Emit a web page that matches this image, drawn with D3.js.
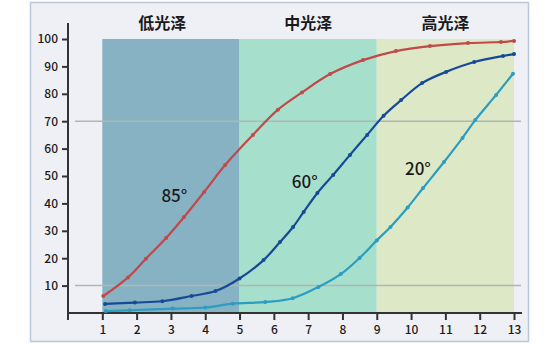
<!DOCTYPE html>
<html lang="zh">
<head>
<meta charset="UTF-8"/>
<script src="https://d3js.org/d3.v7.min.js"></script>
<style>
  body { margin: 0; background: #fff; }
  text { font-family: "Noto Sans CJK SC", "Noto Sans", sans-serif; }
</style>
</head>
<body>
<script type="text/javascript">
// gloss bands along x
var bandNames  = ["低光泽", "中光泽", "高光泽"];
var bandStarts = [1, 5, 9];
var bandEnds   = [5, 9, 13];
var bandLabelX = [2.75, 7, 11];

var xTicks = [1, 2, 3, 4, 5, 6, 7, 8, 9, 10, 11, 12, 13];
var yTicks = [10, 20, 30, 40, 50, 60, 70, 80, 90, 100];
var refLines = [70, 10];

// curves: [x, value]
var red85 = [[1.03,6.2],[1.75,13.0],[2.27,19.8],[2.86,27.4],[3.38,35.0],[3.97,44.2],[4.58,54.0],
             [5.39,65.0],[6.12,74.2],[6.82,80.5],[7.64,87.2],[8.6,92.3],[9.56,95.6],[10.55,97.4],
             [11.66,98.5],[12.62,98.9],[13.0,99.3]];
var blue60 = [[1.08,3.3],[1.95,3.8],[2.75,4.3],[3.6,6.2],[4.3,8.0],[5.0,12.6],[5.7,19.3],[6.18,25.9],
              [6.56,31.4],[6.87,36.9],[7.27,43.8],[7.73,50.4],[8.22,57.7],[8.72,65.0],[9.2,72.0],
              [9.71,77.7],[10.32,83.9],[11.02,88.0],[11.84,91.6],[12.68,93.8],[13.0,94.5]];
var teal20 = [[1.1,0.7],[1.8,1.0],[3.05,1.6],[4.0,2.0],[4.8,3.4],[5.75,4.0],[6.55,5.4],[7.3,9.5],
              [7.95,14.2],[8.5,20.1],[9.0,26.5],[9.4,31.4],[9.9,38.5],[10.35,45.6],[10.96,55.1],
              [11.5,63.9],[11.87,70.4],[12.48,79.6],[12.97,87.3]];

var curveLabels = ["85°", "60°", "20°"];
var curveLabelPos = [[3.1, 40.5], [6.9, 45.5], [10.2, 50.5]];

var w = 555, h = 344;
var bandColors = ["#86b2c3", "#a6e0cd", "#dde9c6"];
var lineColors = ["#c2484a", "#174a96", "#2a9dc0"];

var x = d3.scaleLinear().domain([0, 13]).range([68, 514]);
var y = d3.scaleLinear().domain([0, 100]).range([313, 39]);

var svg = d3.select("body").append("svg")
    .attr("width", w)
    .attr("height", h);

// panel
svg.append("rect")
   .attr("x", 30.5).attr("y", 2.5)
   .attr("width", 498).attr("height", 339)
   .attr("fill", "#eef0f5")
   .attr("stroke", "#b8c8d8")
   .attr("stroke-width", 1.5);

// bands
svg.selectAll("rect.band")
   .data(bandNames)
   .enter().append("rect")
   .attr("class", "band")
   .attr("x", function(d, i) { return x(bandStarts[i]); })
   .attr("y", y(100))
   .attr("width", function(d, i) { return x(bandEnds[i]) - x(bandStarts[i]); })
   .attr("height", y(0) - y(100))
   .attr("fill", function(d, i) { return bandColors[i]; });

svg.selectAll("text.band")
   .data(bandNames)
   .enter().append("text")
   .attr("class", "band")
   .attr("x", function(d, i) { return x(bandLabelX[i]); })
   .attr("y", 29)
   .attr("text-anchor", "middle")
   .attr("font-size", 16)
   .attr("font-weight", "bold")
   .attr("fill", "#1a1a1a")
   .text(function(d) { return d; });

// gray reference lines
svg.selectAll("line.ref")
   .data(refLines)
   .enter().append("line")
   .attr("class", "ref")
   .attr("x1", 75).attr("x2", 521)
   .attr("y1", function(d) { return y(d); })
   .attr("y2", function(d) { return y(d); })
   .attr("stroke", "#b4b4b4")
   .attr("stroke-width", 1.5);

// axes
var yAxis = d3.axisLeft(y).tickValues(yTicks).tickSize(6).tickPadding(4);
var xAxis = d3.axisBottom(x).tickValues(xTicks).tickSize(7).tickPadding(5);

var gy = svg.append("g")
   .attr("transform", "translate(68,0)")
   .call(yAxis);
gy.select(".domain").remove();
gy.append("line")
  .attr("x1", 0).attr("x2", 0).attr("y1", 23).attr("y2", 313)
  .attr("stroke", "#333").attr("stroke-width", 2);

var gx = svg.append("g")
   .attr("transform", "translate(0,313)")
   .call(xAxis);
gx.select(".domain").remove();
gx.append("line")
  .attr("x1", 68).attr("x2", 522).attr("y1", 0).attr("y2", 0)
  .attr("stroke", "#333").attr("stroke-width", 2);
// small tick at the origin
gx.append("line")
  .attr("x1", 68).attr("x2", 68).attr("y1", 0).attr("y2", 7)
  .attr("stroke", "#333").attr("stroke-width", 2);

svg.selectAll(".tick line").attr("stroke", "#333").attr("stroke-width", 2);
svg.selectAll(".tick text")
   .attr("fill", "#1a1a1a")
   .style("font-size", "12px")
   .style("font-weight", "500")
   .style("font-family", "'Noto Sans CJK SC', 'Noto Sans', sans-serif");

// curves
var line = d3.line()
    .curve(d3.curveCatmullRom)
    .x(function(d) { return x(d[0]); })
    .y(function(d) { return y(d[1]); });

[red85, blue60, teal20].forEach(function(series, i) {
    svg.append("path")
       .datum(series)
       .attr("d", line)
       .attr("fill", "none")
       .attr("stroke", lineColors[i])
       .attr("stroke-width", 2.2);
    svg.selectAll("circle.s" + i)
       .data(series)
       .enter().append("circle")
       .attr("class", "s" + i)
       .attr("cx", function(d) { return x(d[0]); })
       .attr("cy", function(d) { return y(d[1]); })
       .attr("r", 2)
       .attr("fill", lineColors[i]);
});

svg.selectAll("text.curve")
   .data(curveLabels)
   .enter().append("text")
   .attr("class", "curve")
   .attr("x", function(d, i) { return x(curveLabelPos[i][0]); })
   .attr("y", function(d, i) { return y(curveLabelPos[i][1]); })
   .attr("text-anchor", "middle")
   .attr("font-size", 17)
   .attr("font-weight", 500)
   .attr("fill", "#1a1a1a")
   .text(function(d) { return d; });
</script>
</body>
</html>
